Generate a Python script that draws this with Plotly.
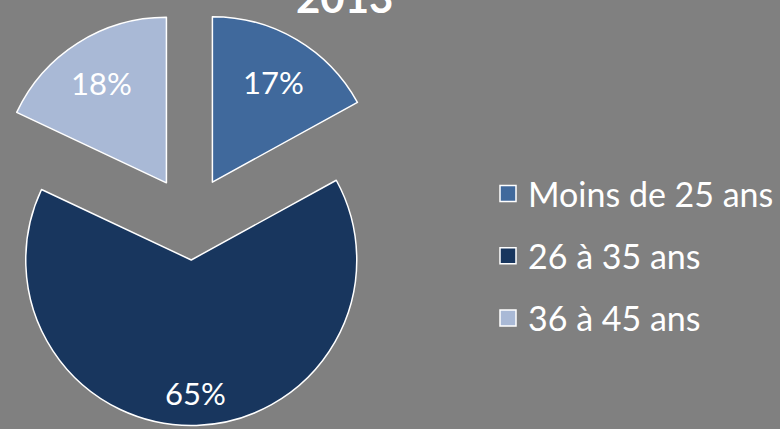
import math
import plotly.graph_objects as go

# ---- data ----
categories = ["Moins de 25 ans", "26 à 35 ans", "36 à 45 ans"]
shares = [17, 65, 18]
colors = ["#40699C", "#18365E", "#A9B9D6"]
title_text = "2013"

# ---- layout constants ----
W, H = 780, 429
BG = "#808080"
CX, CY = 190.0, 220.0      # centre of the un-exploded pie (px)
R = 165.5                   # radius (px)
PULL_PX = [44, 40, 44]      # explosion distance of each slice (px)
LABEL_R = [0.72, 0.79, 0.73]  # label distance from slice apex (fraction of R)
FONT = "Lato"

total = sum(shares)
fig = go.Figure()

cum = 0.0
for i, (cat, v, col) in enumerate(zip(categories, shares, colors)):
    start = 360.0 * cum / total
    half = start + 180.0 * v / total
    cum += v
    sx, cy_ = math.sin(math.radians(half)), math.cos(math.radians(half))
    ax = CX + PULL_PX[i] * sx
    ay = CY - PULL_PX[i] * cy_
    x0 = max(0.0, (ax - R) / W)
    x1 = min(1.0, (ax + R) / W)
    y0 = max(0.0, 1 - (ay + R) / H)
    y1 = min(1.0, 1 - (ay - R) / H)
    fig.add_trace(go.Pie(
        labels=[cat, " "],
        values=[v, total - v],
        textinfo="none",
        sort=False,
        direction="clockwise",
        rotation=start,
        marker=dict(colors=[col, "rgba(0,0,0,0)"],
                    line=dict(color=["white", "rgba(0,0,0,0)"], width=[1.5, 0])),
        domain=dict(x=[x0, x1], y=[y0, y1]),
        showlegend=False,
        hoverinfo="skip",
    ))
    # percentage label on the slice bisector
    lx = ax + LABEL_R[i] * R * sx
    ly = ay - LABEL_R[i] * R * cy_
    fig.add_annotation(
        text=f"{v}%", xref="paper", yref="paper",
        x=lx / W, y=1 - ly / H, xanchor="center", yanchor="middle",
        yshift=-2, showarrow=False,
        font=dict(family=FONT, size=31, color="white"),
    )

# legend entries
for cat, col in zip(categories, colors):
    fig.add_trace(go.Scatter(
        x=[None], y=[None], mode="markers", name=cat, legendgroup=cat,
        marker=dict(symbol="square", size=16, color=col,
                    line=dict(color="white", width=1.5)),
    ))

fig.add_annotation(
    text=f"<b>{title_text}</b>", xref="paper", yref="paper",
    x=344.5 / W, y=1, xanchor="center", yanchor="bottom", yshift=-24,
    showarrow=False, font=dict(family=FONT, size=42, color="white"),
)

fig.update_layout(
    width=W, height=H,
    margin=dict(l=0, r=0, t=0, b=0),
    paper_bgcolor=BG, plot_bgcolor=BG,
    xaxis=dict(visible=False), yaxis=dict(visible=False),
    legend=dict(x=488 / W, y=1 - 165 / H, xanchor="left", yanchor="top",
                font=dict(family=FONT, size=34, color="white"),
                tracegroupgap=15, bgcolor="rgba(0,0,0,0)",
                traceorder="grouped"),
)

fig.write_html("out.html", config={"displayModeBar": False},
               post_script="document.body.style.margin='0';document.body.style.overflow='hidden';")
